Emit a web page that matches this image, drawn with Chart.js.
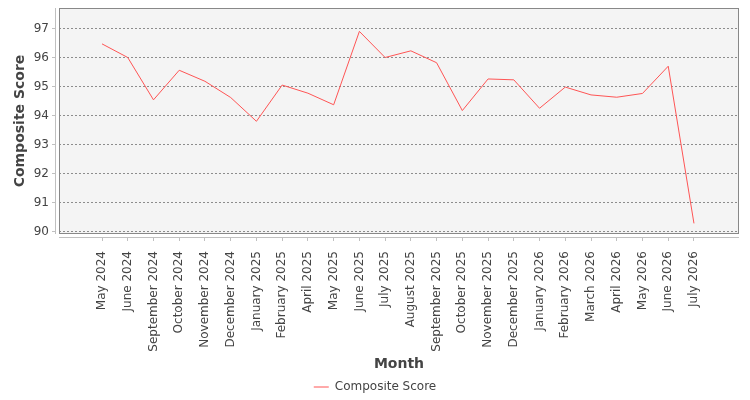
<!DOCTYPE html>
<html><head><meta charset="utf-8">
<script src="https://cdn.jsdelivr.net/npm/chart.js@4.4.0/dist/chart.umd.min.js"></script>
<style>html,body{margin:0;padding:0;background:#fff}#wrap{width:750px;height:400px}</style>
</head><body><div id="wrap"><canvas id="c" width="750" height="400"></canvas></div>
<script>
const categories = ["May 2024","June 2024","September 2024","October 2024","November 2024","December 2024","January 2025","February 2025","April 2025","May 2025","June 2025","July 2025","August 2025","September 2025","October 2025","November 2025","December 2025","January 2026","February 2026","March 2026","April 2026","May 2026","June 2026","July 2026"];
const compositeScore = [96.47, 96.0, 94.54, 95.56, 95.18, 94.62, 93.80, 95.05, 94.77, 94.37, 96.90, 96.0, 96.23, 95.82, 94.17, 95.26, 95.23, 94.25, 94.98, 94.71, 94.63, 94.76, 95.70, 90.28];
const seriesName = "Composite Score";

const FONT = "'DejaVu Sans', sans-serif";
const TEXT = '#444444';

const framePlugin = {
  id: 'frame',
  beforeDraw(chart) {
    const {ctx, chartArea: a} = chart;
    ctx.save();
    ctx.fillStyle = '#f4f4f4';
    ctx.fillRect(a.left, a.top, a.right - a.left, a.bottom - a.top);
    ctx.restore();
  },
  afterDraw(chart) {
    const {ctx, chartArea: a, scales} = chart;
    ctx.save();
    ctx.lineWidth = 1;
    ctx.strokeStyle = '#888888';
    ctx.strokeRect(a.left + 0.5, a.top + 0.5, a.right - a.left - 1, a.bottom - a.top - 1);
    ctx.strokeStyle = '#c0c0c0';
    ctx.beginPath();
    const ax = a.left - 3.5;
    ctx.moveTo(ax, a.top); ctx.lineTo(ax, a.bottom);
    scales.y.ticks.forEach(t => {
      const y = Math.round(scales.y.getPixelForValue(t.value) - 0.5) + 0.5;
      ctx.moveTo(a.left - 7, y); ctx.lineTo(a.left - 3, y);
    });
    const ay = a.bottom + 3.5;
    ctx.moveTo(a.left, ay); ctx.lineTo(a.right, ay);
    scales.x.ticks.forEach(t => {
      const x = Math.round(scales.x.getPixelForValue(t.value) - 0.5) + 0.5;
      ctx.moveTo(x, a.bottom + 3); ctx.lineTo(x, a.bottom + 7);
    });
    ctx.stroke();
    ctx.restore();
  }
};

function noPad(scale) {
  scale.paddingTop = 0; scale.paddingBottom = 0; scale.paddingLeft = 0; scale.paddingRight = 0;
}

new Chart(document.getElementById('c'), {
  type: 'line',
  data: {
    datasets: [{
      label: seriesName,
      data: compositeScore.map((v, i) => ({x: i, y: v})),
      borderColor: '#ff5555',
      backgroundColor: '#ff5555',
      borderWidth: 1,
      pointRadius: 0,
      tension: 0,
      fill: false
    }]
  },
  options: {
    responsive: false,
    animation: false,
    devicePixelRatio: 1,
    events: [],
    layout: {padding: {top: 8, left: 0, right: 0, bottom: -3}},
    scales: {
      x: {
        type: 'linear',
        min: -1.671,
        max: 24.75,
        afterBuildTicks(scale) { scale.ticks = categories.map((_, i) => ({value: i})); },
        afterFit(scale) { scale.height = 147; noPad(scale); },
        grid: {display: false},
        border: {display: false},
        ticks: {
          autoSkip: false, maxRotation: 90, minRotation: 90, padding: 9,
          color: TEXT, font: {family: FONT, size: 12},
          callback: (v) => categories[v]
        },
        title: {display: true, text: 'Month', color: TEXT, font: {family: FONT, size: 14, weight: 'bold'}, padding: {top: 0, bottom: 8}}
      },
      y: {
        type: 'linear',
        min: 89.914,
        max: 97.707,
        afterFit(scale) { scale.width = 59; noPad(scale); },
        grid: {color: '#8c8c8c', lineWidth: 1, drawTicks: false},
        border: {display: false, dash: [2, 2]},
        ticks: {stepSize: 1, includeBounds: false, padding: 10, color: TEXT, font: {family: FONT, size: 12}},
        title: {display: true, text: 'Composite Score', color: TEXT, font: {family: FONT, size: 14, weight: 'bold'}, padding: {top: 12, bottom: 0}}
      },
      y2: {
        type: 'linear',
        position: 'right',
        display: true,
        afterFit(scale) { scale.width = 11; noPad(scale); },
        grid: {display: false},
        border: {display: false},
        ticks: {display: false}
      }
    },
    plugins: {
      legend: {
        position: 'bottom',
        labels: {usePointStyle: true, pointStyle: 'line', pointStyleWidth: 15, padding: 0, color: TEXT, font: {family: FONT, size: 12}}
      },
      tooltip: {enabled: false}
    }
  },
  plugins: [framePlugin]
});
</script>
</body></html>
